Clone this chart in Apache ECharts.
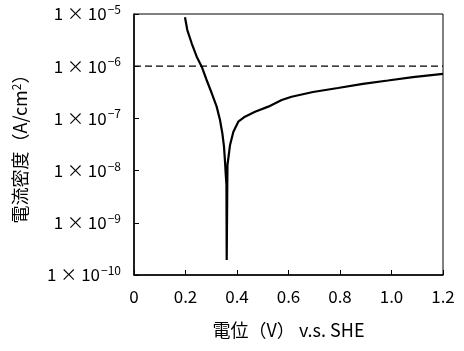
<!DOCTYPE html>
<html>
<head>
<meta charset="utf-8">
<script src="https://cdn.jsdelivr.net/npm/echarts@6/dist/echarts.min.js"></script>
<style>
  html, body { margin: 0; padding: 0; background: #fff; }
  #chart { width: 464px; height: 351px; }
</style>
</head>
<body>
<div id="chart"></div>
<script>
// potential (V vs SHE) (cathodic then anodic)
var potential = [0.198, 0.207, 0.224, 0.2435, 0.263, 0.282, 0.302, 0.321, 0.334, 0.343,
  0.3495, 0.353, 0.3565, 0.359, 0.360,
  0.362, 0.3623, 0.363, 0.373, 0.386, 0.405, 0.431, 0.470, 0.5215, 0.5736, 0.612,
  0.695, 0.792, 0.889, 0.986, 1.083, 1.200];
// current density (A/cm2)
var current = [8.65e-6, 4.93e-6, 2.75e-6, 1.52e-6, 9.8e-7, 5.44e-7, 3.03e-7, 1.68e-7, 9.3e-8, 5.2e-8,
  2.87e-8, 1.6e-8, 8.2e-9, 5.3e-9, 1.94e-10,
  1.94e-10, 5.3e-9, 1.28e-8, 3.1e-8, 5.56e-8, 8.64e-8, 1.08e-7, 1.34e-7, 1.68e-7, 2.25e-7, 2.6e-7,
  3.2e-7, 3.82e-7, 4.6e-7, 5.32e-7, 6.2e-7, 7.1e-7];
// dashed reference level
var refX = [0, 1.2];
var refY = [1e-6, 1e-6];

var font = '"Noto Sans CJK JP", "Liberation Sans", sans-serif';
var chart = echarts.init(document.getElementById('chart'));

var points = potential.map(function (v, i) { return [v, current[i]]; });
var refPoints = refX.map(function (v, i) { return [v, refY[i]]; });

chart.setOption({
  animation: false,
  grid: {
    left: 134, right: 21, top: 14, bottom: 76,
    containLabel: false,
    outerBoundsMode: 'none',
    show: true, borderColor: '#000', borderWidth: 1
  },
  xAxis: {
    type: 'value',
    min: 0, max: 1.2, interval: 0.2,
    name: '電位（V） v.s. SHE',
    nameLocation: 'middle',
    nameGap: 46,
    nameTextStyle: { fontFamily: font, fontSize: 18, color: '#000' },
    axisLine: { show: true, lineStyle: { color: '#000', width: 1.5 } },
    axisTick: { show: true, inside: true, length: 5, lineStyle: { color: '#000' } },
    splitLine: { show: false },
    axisLabel: {
      margin: 13, fontFamily: font, fontSize: 17, color: '#000',
      formatter: function (v) {
        return v === 0 ? '0' : v.toFixed(1);
      }
    }
  },
  yAxis: {
    type: 'log',
    logBase: 10,
    min: 1e-10, max: 1e-5,
    name: '電流密度（A/cm{sup|2}）',
    nameLocation: 'middle',
    nameGap: 104,
    nameRotate: 90,
    nameTextStyle: {
      fontFamily: font, fontSize: 18, color: '#000',
      rich: { sup: { fontFamily: font, fontSize: 12, color: '#000', verticalAlign: 'top', padding: [0, 0, 8, 0] } }
    },
    axisLine: { show: true, lineStyle: { color: '#000', width: 1.5 } },
    axisTick: { show: true, inside: true, length: 5, lineStyle: { color: '#000' } },
    minorTick: { show: false },
    splitLine: { show: false },
    axisLabel: {
      margin: 13, color: '#000',
      formatter: function (v) {
        var e = Math.round(Math.log10(v));
        return '{b|1 × 10}{s|−' + Math.abs(e) + '}';
      },
      rich: {
        b: { fontFamily: font, fontSize: 17, color: '#000' },
        s: { fontFamily: font, fontSize: 12, color: '#000', verticalAlign: 'top', padding: [0, 0, 9, 1] }
      }
    }
  },
  series: [{
    type: 'line',
    data: refPoints,
    showSymbol: false,
    silent: true,
    lineStyle: { color: '#000', width: 1.2, type: [7, 4] }
  }, {
    type: 'line',
    data: points,
    showSymbol: false,
    lineStyle: { color: '#000', width: 2.2 }
  }]
});
</script>
</body>
</html>
